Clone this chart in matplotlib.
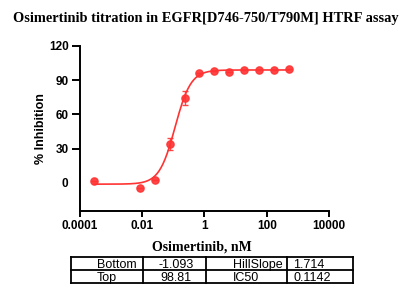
import numpy as np
import matplotlib
matplotlib.use("Agg")
import matplotlib.pyplot as plt
from matplotlib.lines import Line2D

# measured points (nM, % inhibition)
conc = [0.00029, 0.00847, 0.0254, 0.0762, 0.229, 0.686, 2.06, 6.17, 18.5, 55.6, 166.7, 500]
inhib = [1.4, -4.4, 2.9, 34.0, 74.6, 95.9, 98.2, 97.3, 98.8, 98.8, 98.8, 99.5]
err = [0, 0, 0, 5.0, 6.0, 0, 0, 0, 0, 0, 0, 0]

# fit parameters shown in the table
bottom, top, hill, ic50 = -1.093, 98.81, 1.714, 0.1142
table_rows = [["Bottom", "-1.093", "HillSlope", "1.714"],
              ["Top", "98.81", "IC50", "0.1142"]]

red = "#ff3333"
sans = "Liberation Sans"
serif = "Liberation Serif"

fig = plt.figure(figsize=(4.11, 3.03), dpi=100)
ax = fig.add_axes([0.194, 0.302, 0.607, 0.547])

xs = np.logspace(np.log10(conc[0]), np.log10(conc[-1]), 300)
ys = bottom + (top - bottom) / (1 + (ic50 / xs) ** hill)
ax.plot(xs, ys, color=red, lw=1.2)
ax.errorbar(conc, inhib, yerr=err, fmt="o", color=red, ms=5.2, capsize=2.5,
            elinewidth=1, capthick=1, alpha=0.9)

ax.set_xscale("log")
ax.set_xlim(1e-4, 1e4)
ax.set_ylim(-25, 120)
ax.set_xticks([1e-4, 1e-2, 1, 1e2, 1e4])
ax.set_xticklabels(["0.0001", "0.01", "1", "100", "10000"])
ax.minorticks_off()
ax.set_yticks([0, 30, 60, 90, 120])
for s in ["top", "right"]:
    ax.spines[s].set_visible(False)
for s in ["left", "bottom"]:
    ax.spines[s].set_linewidth(1.4)
ax.tick_params(axis="x", length=4, width=1.4, pad=2)
ax.tick_params(axis="y", length=6, width=1.4, pad=2)
ax.yaxis.get_major_ticks()[0].tick1line.set_visible(False)
for lab in ax.get_xticklabels() + ax.get_yticklabels():
    lab.set_fontfamily(sans)
    lab.set_fontweight("bold")
    lab.set_fontsize(8.5)
ax.set_ylabel("% Inhibition", fontfamily=sans, fontweight="bold", fontsize=9, labelpad=1)

fig.text(0.5, 0.94, "Osimertinib titration in EGFR[D746-750/T790M] HTRF assay",
         ha="center", va="center", fontfamily=serif, fontweight="bold", fontsize=10.4)
fig.text(0.49, 1 - 247 / 303, "Osimertinib, nM", ha="center", va="center",
         fontfamily=serif, fontweight="bold", fontsize=10)

# parameter table
W, H = 411, 303
cols = [71, 143, 206, 287, 353]
rows = [257, 270, 282.5]
for y in rows:
    fig.add_artist(Line2D([cols[0] / W, cols[-1] / W], [1 - y / H, 1 - y / H], color="black", lw=1.3))
for x in cols:
    fig.add_artist(Line2D([x / W, x / W], [1 - rows[0] / H, 1 - rows[-1] / H], color="black", lw=1.3))
text_x = [97, 176, 233, 293]
aligns = ["left", "center", "left", "left"]
for r, row in enumerate(table_rows):
    base = (rows[r] + rows[r + 1]) / 2 + 4.5
    for c, txt in enumerate(row):
        fig.text(text_x[c] / W, 1 - base / H, txt, ha=aligns[c], va="baseline",
                 fontfamily=sans, fontsize=9)

fig.savefig("out.png", dpi=100)
